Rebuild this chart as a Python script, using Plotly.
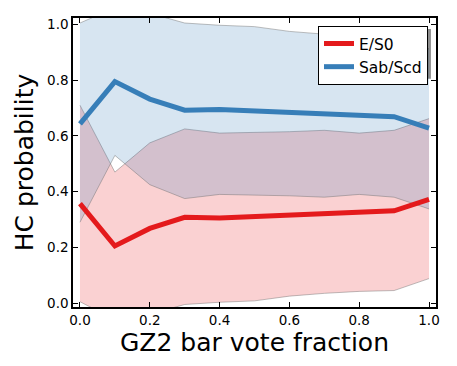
import plotly.graph_objects as go

# GZ2 bar vote fraction bins
x = [0.0, 0.1, 0.2, 0.3, 0.4, 0.5, 0.6, 0.7, 0.8, 0.9, 1.0]

# E/S0 mean HC probability and spread
es0_mean = [0.357, 0.205, 0.268, 0.308, 0.305, 0.310, 0.315, 0.324, 0.325, 0.331, 0.372]
es0_upper = [0.710, 0.470, 0.575, 0.625, 0.610, 0.612, 0.615, 0.620, 0.610, 0.620, 0.662]
es0_lower = [0.005, -0.060, -0.040, -0.005, 0.003, 0.008, 0.025, 0.035, 0.042, 0.045, 0.088]

# Sab/Scd mean HC probability and spread
sab_mean = [0.643, 0.795, 0.732, 0.692, 0.695, 0.690, 0.685, 0.676, 0.675, 0.669, 0.628]
sab_upper = [1.005, 1.060, 1.040, 1.005, 0.997, 0.992, 0.975, 0.965, 0.958, 0.955, 0.912]
sab_lower = [0.290, 0.530, 0.425, 0.375, 0.390, 0.388, 0.385, 0.380, 0.390, 0.380, 0.338]

tick_vals = [0.0, 0.2, 0.4, 0.6, 0.8, 1.0]
tick_text = ['0.0', '0.2', '0.4', '0.6', '0.8', '1.0']

red, blue = '#e41a1c', '#377eb8'
edge = dict(color='rgba(110,110,110,0.45)', width=1)

fig = go.Figure()

# bands: red first, blue on top
for lo, hi, fc in [(es0_lower, es0_upper, 'rgba(228,26,28,0.2)'),
                   (sab_lower, sab_upper, 'rgba(55,126,184,0.2)')]:
    fig.add_trace(go.Scatter(x=x, y=lo, mode='lines', line=edge, showlegend=False, hoverinfo='skip'))
    fig.add_trace(go.Scatter(x=x, y=hi, mode='lines', line=edge, fill='tonexty', fillcolor=fc,
                             showlegend=False, hoverinfo='skip'))

fig.add_trace(go.Scatter(x=x, y=es0_mean, mode='lines', name='E/S0', line=dict(color=red, width=5)))
fig.add_trace(go.Scatter(x=x, y=sab_mean, mode='lines', name='Sab/Scd', line=dict(color=blue, width=5)))

axis_style = dict(
    showline=True, linecolor='black', linewidth=1.5, mirror='ticks',
    ticks='inside', ticklen=5, tickwidth=1, tickcolor='black',
    showgrid=False, zeroline=False,
    tickvals=tick_vals, ticktext=tick_text,
    tickfont=dict(size=13.5, color='black'),
)

fig.update_xaxes(range=[-0.02, 1.02], title=dict(text='GZ2 bar vote fraction', font=dict(size=25, color='black'), standoff=4), **axis_style)
fig.update_yaxes(range=[-0.014, 1.023], title=dict(text='HC probability', font=dict(size=25, color='black'), standoff=6), **axis_style)

# legend shadow
fig.add_shape(type='rect', xref='paper', yref='paper', x0=0.675, x1=0.986, y0=0.790, y1=0.962,
              fillcolor='rgba(0,0,0,0.45)', line_width=0, layer='above')

fig.update_layout(
    width=449,
    height=358,
    template='plotly_white',
    plot_bgcolor='white',
    paper_bgcolor='white',
    font=dict(family='DejaVu Sans', color='black'),
    margin=dict(l=65, r=21, t=8, b=59),
    legend=dict(x=0.978, y=0.9725, xanchor='right', yanchor='top',
                bgcolor='white', bordercolor='black', borderwidth=1,
                font=dict(size=15.5), tracegroupgap=0, traceorder='normal'),
)

fig.write_html("out.html")
